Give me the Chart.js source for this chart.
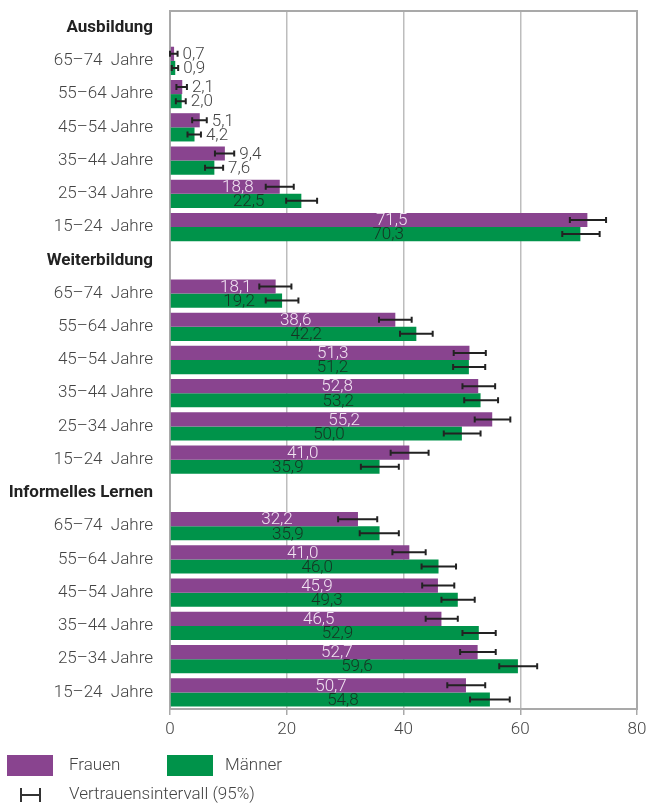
<!DOCTYPE html>
<html lang="de">
<head>
<meta charset="utf-8">
<title>Lernbeteiligung nach Alter und Geschlecht</title>
<script src="https://cdn.jsdelivr.net/npm/chart.js@4.4.1/dist/chart.umd.min.js"></script>
<style>
  html, body { margin: 0; padding: 0; background: #fff; }
  canvas { display: block; }
</style>
</head>
<body>
<canvas id="chart" width="650" height="805"></canvas>
<script>
// Gruppenüberschriften und Altersgruppen (von oben nach unten)
const groupHeaders = ['Ausbildung', 'Weiterbildung', 'Informelles Lernen'];
const categories = [
  'Ausbildung',
  '65–74  Jahre', '55–64 Jahre', '45–54 Jahre', '35–44 Jahre', '25–34 Jahre', '15–24  Jahre',
  'Weiterbildung',
  '65–74  Jahre', '55–64 Jahre', '45–54 Jahre', '35–44 Jahre', '25–34 Jahre', '15–24  Jahre',
  'Informelles Lernen',
  '65–74  Jahre', '55–64 Jahre', '45–54 Jahre', '35–44 Jahre', '25–34 Jahre', '15–24  Jahre'
];

// Anteile in Prozent
const frauen  = [null, 0.7, 2.1, 5.1, 9.4, 18.8, 71.5, null, 18.1, 38.6, 51.3, 52.8, 55.2, 41.0, null, 32.2, 41.0, 45.9, 46.5, 52.7, 50.7];
const maenner = [null, 0.9, 2.0, 4.2, 7.6, 22.5, 70.3, null, 19.2, 42.2, 51.2, 53.2, 50.0, 35.9, null, 35.9, 46.0, 49.3, 52.9, 59.6, 54.8];

// Vertrauensintervall (95 %), untere und obere Grenze
const frauenLow   = [null, 0.0, 1.1, 3.8, 7.7, 16.4, 68.5, null, 15.3, 35.8, 48.6, 50.1, 52.2, 37.8, null, 28.8, 38.1, 43.2, 43.8, 49.7, 47.5];
const frauenHigh  = [null, 1.3, 2.9, 6.3, 11.0, 21.2, 74.7, null, 20.8, 41.4, 54.1, 55.7, 58.3, 44.3, null, 35.5, 43.8, 48.7, 49.3, 55.8, 54.0];
const maennerLow  = [null, 0.3, 1.0, 3.0, 6.0, 19.9, 67.2, null, 16.4, 39.4, 48.5, 50.4, 46.9, 32.7, null, 32.5, 43.1, 46.5, 50.1, 56.4, 51.4];
const maennerHigh = [null, 1.4, 2.7, 5.3, 9.1, 25.2, 73.6, null, 22.0, 45.0, 54.0, 56.2, 53.2, 39.2, null, 39.2, 49.0, 52.2, 55.8, 62.9, 58.2];

const xTicks = [0, 20, 40, 60, 80];

const PURPLE = '#89448f';
const GREEN = '#00934a';
const FONT = 'Roboto, "Noto Sans", sans-serif';

const fmt = v => v.toFixed(1).replace('.', ',');

// Rahmen um die Zeichenfläche
const framePlugin = {
  id: 'frame',
  beforeDatasetsDraw(chart) {
    const { ctx, chartArea: a } = chart;
    ctx.save();
    ctx.strokeStyle = '#a9a9a9';
    ctx.lineWidth = 2;
    ctx.strokeRect(a.left, a.top, a.right - a.left, a.bottom - a.top);
    ctx.restore();
  }
};

// Fehlerbalken und Wertbeschriftungen
const errorLabelPlugin = {
  id: 'errorLabels',
  afterDatasetsDraw(chart) {
    const { ctx } = chart;
    const xs = chart.scales.x;
    const ranges = [[frauenLow, frauenHigh], [maennerLow, maennerHigh]];
    ctx.save();
    chart.data.datasets.forEach((ds, di) => {
      const meta = chart.getDatasetMeta(di);
      meta.data.forEach((bar, i) => {
        const v = ds.data[i];
        if (v === null) return;
        const y = bar.y;
        const lo = xs.getPixelForValue(ranges[di][0][i]);
        const hi = xs.getPixelForValue(ranges[di][1][i]);
        // Fehlerbalken
        ctx.strokeStyle = '#222';
        ctx.lineWidth = 2;
        ctx.beginPath();
        ctx.moveTo(lo, y); ctx.lineTo(hi, y);
        ctx.moveTo(lo, y - 3); ctx.lineTo(lo, y + 3);
        ctx.moveTo(hi, y - 3); ctx.lineTo(hi, y + 3);
        ctx.stroke();

        // Wertbeschriftung
        const text = fmt(v);
        ctx.font = '300 17px ' + FONT;
        ctx.textBaseline = 'middle';
        const w = ctx.measureText(text).width;
        const cx = xs.getPixelForValue(v / 2) + 13;
        if (cx + w / 2 < lo - 2) {
          ctx.textAlign = 'center';
          ctx.fillStyle = di === 0 ? '#f1e3f2' : '#163323';
          ctx.fillText(text, cx, y + 1);
        } else {
          ctx.textAlign = 'left';
          ctx.fillStyle = '#444';
          ctx.fillText(text, hi + 5, y + 1);
        }
      });
    });
    ctx.restore();
  }
};

// Legende unter der Achse
const legendPlugin = {
  id: 'bottomLegend',
  afterDraw(chart) {
    const { ctx } = chart;
    ctx.save();
    ctx.font = '300 17px ' + FONT;
    ctx.textBaseline = 'middle';
    ctx.textAlign = 'left';
    ctx.fillStyle = PURPLE;
    ctx.fillRect(7, 755, 46, 21);
    ctx.fillStyle = GREEN;
    ctx.fillRect(167, 755, 46, 21);
    ctx.fillStyle = '#444';
    ctx.fillText('Frauen', 69, 766);
    ctx.fillText('Männer', 225, 766);
    ctx.fillText('Vertrauensintervall (95%)', 69, 795);
    ctx.strokeStyle = '#333';
    ctx.lineWidth = 2;
    ctx.beginPath();
    ctx.moveTo(21, 788); ctx.lineTo(21, 802);
    ctx.moveTo(40, 788); ctx.lineTo(40, 802);
    ctx.moveTo(21, 795); ctx.lineTo(40, 795);
    ctx.stroke();
    ctx.restore();
  }
};

new Chart(document.getElementById('chart'), {
  type: 'bar',
  data: {
    labels: categories,
    datasets: [
      { label: 'Frauen', data: frauen, backgroundColor: PURPLE, borderWidth: 0, categoryPercentage: 0.85, barPercentage: 1.0 },
      { label: 'Männer', data: maenner, backgroundColor: GREEN, borderWidth: 0, categoryPercentage: 0.85, barPercentage: 1.0 }
    ]
  },
  options: {
    indexAxis: 'y',
    responsive: false,
    animation: false,
    devicePixelRatio: 1,
    layout: { padding: { left: 0, right: 13, top: 11, bottom: 0 } },
    plugins: {
      legend: { display: false },
      tooltip: { enabled: false }
    },
    scales: {
      x: {
        min: 0,
        max: 80,
        afterBuildTicks(scale) { scale.ticks = xTicks.map(v => ({ value: v })); },
        afterFit(scale) { scale.height = 96; scale.paddingLeft = 0; scale.paddingRight = 0; },
        border: { display: false },
        grid: {
          color: c => (c.tick && (c.tick.value === 0 || c.tick.value === 80)) ? 'rgba(0,0,0,0)' : '#bdbdbd',
          lineWidth: 1.5,
          drawTicks: true,
          tickLength: 6,
          tickColor: '#a9a9a9',
          tickWidth: 1.5
        },
        ticks: {
          color: '#444',
          padding: 5,
          font: { family: FONT, size: 17, weight: 300 }
        }
      },
      y: {
        afterFit(scale) { scale.width = 170; scale.paddingTop = 0; scale.paddingBottom = 0; },
        border: { display: false },
        grid: { display: false, drawTicks: false },
        ticks: {
          autoSkip: false,
          padding: 17,
          color: c => groupHeaders.includes(categories[c.index]) ? '#222' : '#444',
          font: c => groupHeaders.includes(categories[c.index])
            ? { family: FONT, size: 17, weight: 'bold' }
            : { family: FONT, size: 17, weight: 300 }
        }
      }
    }
  },
  plugins: [framePlugin, errorLabelPlugin, legendPlugin]
});
</script>
</body>
</html>
